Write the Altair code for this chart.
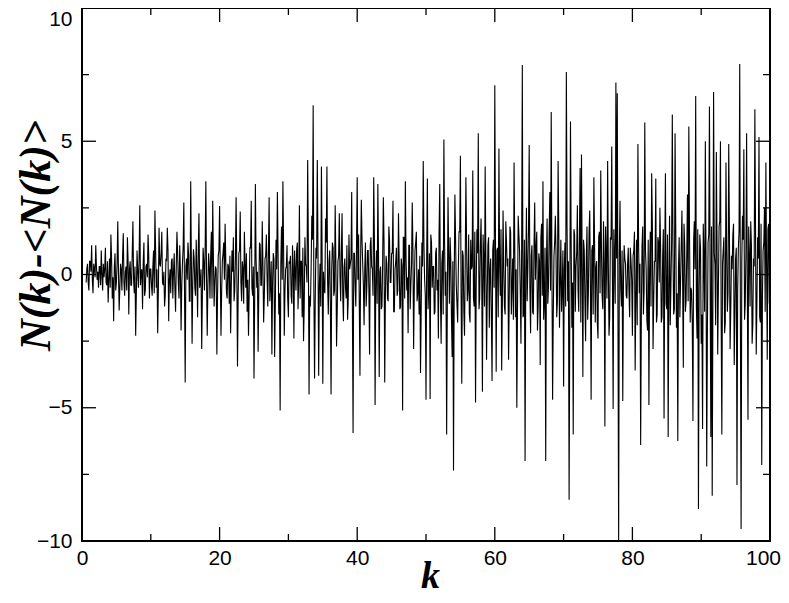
import altair as alt
import pandas as pd

# ---- data ----
# main samples: k = start + 0.2*i ; in-between samples: k = start + 0.1 + 0.2*i
K_STEP = 0.2
block_starts = [0.6, 10.2, 20.2, 30.2, 40.2, 50.2, 60.2, 70.2, 80.2, 90.2]

dev_00_10 = [-0.3, 0.4, -0.6, 0.5, 1.1, -0.7, 0.2, 1.1,
             -0.2, -0.5, 0.3, 0.9, -0.6, -0.1, 1.0, -0.4, -1.05, 0.6,
             1.5, -0.9, -1.75, 0.8, -0.3, 2.0, -1.35, 0.4, -0.6, 1.55,
             -0.8, 0.3, 1.4, -1.5, 0.5, -0.4, 2.0, -0.7, -2.3, 0.9,
             -0.5, 2.6, 0.1, -1.3, 1.2, -0.6, 0.4, 1.5, -0.9, 0.2]
dev_10_20 = [-0.8, 0.9, 2.4, -0.5, -2.2, 1.75, 0.3, 1.6, -0.4, -1.2,
             0.6, 1.75, -1.75, 0.2, 0.5, -0.9, 0.8, -1.4, 1.6, -0.3,
             1.1, -2.1, 0.4, 2.7, -4.05, 0.6, 1.2, -1.0, 3.5, -2.6,
             0.95, -0.5, 1.3, -1.6, 2.3, -0.3, -2.8, 1.0, -0.6, 3.5,
             -2.3, 0.8, -0.9, 1.6, 2.77, -1.2, 0.3, -3.0, 0.7, 2.57]
dev_20_30 = [-2.3, 0.5, 1.2, 1.9, -0.7, 0.4, -1.1, -2.2, 0.9, 1.4,
             -0.6, 2.9, -3.45, 0.8, 2.36, -1.0, 0.2, 1.6, -0.5, -1.4,
             -2.3, 1.0, 2.77, -0.8, -3.9, 3.4, -0.5, -2.9, 1.2, -0.4,
             2.0, -1.8, 0.6, 1.5, -1.2, 2.9, -0.4, -3.0, 0.8, -3.1,
             1.3, 3.1, -1.5, -5.1, 1.8, 3.5, -2.3, 0.2, 1.1, -1.6]
dev_30_40 = [0.4, -0.8, 1.1, -2.4, 0.2, 0.95, -1.3, 2.6, 0.5, -1.6,
             -2.5, 1.4, 0.3, 4.3, -4.5, -1.2, 2.2, 6.35, -3.9, 1.0,
             4.3, -3.8, 0.4, 4.05, -4.1, -0.6, 2.1, 4.05, -1.5, 0.9,
             -4.5, 1.2, -0.8, 2.6, -2.7, 0.5, 2.3, -1.0, 2.3, -1.75,
             0.6, -0.9, -1.7, 1.5, 0.4, 3.1, -5.95, 0.8, -1.2, 3.65]
dev_40_50 = [1.5, -3.8, 2.8, 0.4, -1.9, 1.2, -0.5, 0.9, -3.0, 1.4,
             0.2, 3.65, -4.9, 0.9, 3.4, -3.85, 0.3, -1.2, 2.9, -4.05,
             0.7, -0.9, 1.8, -0.3, 0.8, 2.77, -1.4, 0.5, -0.8, 2.3,
             -1.3, 0.6, -5.1, 1.4, 3.5, -0.6, -2.2, 1.1, -0.4, 2.7,
             -2.8, 0.9, 1.6, -0.7, -1.5, -3.7, 1.2, 4.26, -0.2, -4.7]
dev_50_60 = [3.6, -0.5, -4.67, 1.2, 0.3, -1.5, 0.8, -0.6, -2.4, 3.4,
             -2.6, 0.9, 5.07, -0.8, -6.0, 2.9, -1.1, 0.6, -3.1, -7.35,
             3.0, -0.4, -1.8, 1.6, 4.46, -4.1, 0.7, -2.3, 3.65, -1.0,
             1.5, -1.8, 0.2, 3.9, -1.2, -4.8, 1.7, 5.3, -0.9, 2.1,
             -4.4, 0.5, 4.05, -3.2, 1.1, -2.0, 0.6, -4.0, 1.3, 7.1]
dev_60_70 = [-3.65, 1.0, 4.73, -0.8, -3.6, 2.4, -1.2, 2.0, 0.3, -3.2,
             1.8, -1.5, 0.6, 4.2, -1.6, -5.0, 2.2, 0.9, -2.6, 7.86,
             -1.5, -7.0, 2.5, 0.2, 4.86, -2.2, 1.1, -1.5, 2.7, 1.0,
             -2.1, 0.8, -3.4, 1.9, 3.5, -1.0, -7.0, 2.1, -0.5, 3.1,
             6.1, -4.7, 0.7, 2.2, -1.6, 4.26, -2.0, 1.3, -0.6, -4.2]
dev_70_80 = [1.2, 7.6, -1.0, -8.45, 5.74, -2.0, -6.0, 1.5, 0.3, 2.6,
             -1.4, 4.0, 4.5, -3.85, 0.9, -2.5, 1.8, -0.7, 2.4, -4.7,
             1.1, 3.65, -1.8, 0.5, -2.4, 1.6, 3.9, -0.8, 2.0, -5.7,
             0.8, 4.26, -2.3, 1.4, 4.8, -5.05, 0.6, 7.2, 6.8, -10.0,
             2.77, -1.2, -4.75, 1.1, 0.4, -0.9, 1.0, -1.6, 0.5, -2.3]
dev_80_90 = [0.9, -3.6, 1.3, 4.9, -0.7, -6.4, 1.1, -1.5, 5.7, 0.2,
             -2.1, -4.9, 1.6, 3.8, -2.8, 0.5, 3.6, -1.5, 1.2, 2.5,
             -1.8, 0.7, -5.4, 3.8, -1.3, -6.1, 2.2, -0.4, 6.0, -1.5,
             5.3, -2.0, -6.25, 1.4, -0.3, 2.4, -3.5, 1.1, -1.0, 3.0,
             5.55, -1.8, -0.6, -5.5, 2.0, 6.7, -2.4, -8.8, 1.5, -2.6]
dev_90_100 = [-5.8, 0.6, 5.0, -7.2, 1.2, 6.3, -6.1, -8.3, 6.85, 0.4,
              4.6, -3.0, 1.8, 5.0, -6.0, 0.9, -2.2, 4.2, -1.4, 4.9,
              -2.8, 0.7, 1.5, -3.4, 0.6, -7.9, 1.0, 7.9, -9.55, 2.2,
              4.7, -1.1, 5.3, -5.45, 0.8, 2.0, -2.6, 0.6, 6.2, -3.0,
              1.4, 5.16, -1.8, -7.15, 0.9, 2.5, 4.2, -3.2, 1.9, 0.5]

mid_00_10 = [0.2, -0.3, 0.5, 0.1, -0.2, 0.4, -0.1, 0.3,
             0.1, 0.3, -0.4, 0.0, 0.4, 0.2, -0.3, 0.5, -0.2, -0.5,
             0.6, -0.1, 0.3, -0.6, 0.4, 0.1, -0.5, 0.2, 0.7, -0.3,
             0.1, -0.6, 0.5, 0.2, -0.4, 0.8, -0.2, 0.3, -0.7, 0.1,
             0.6, -0.4, 0.2, 0.5, -0.8, 0.3, -0.1, 0.7, 0.2, -0.4]
mid_10_20 = [0.3, -0.7, 0.9, 0.2, -0.6, 0.4, 0.8, -0.3, 0.1, -0.8,
             0.5, 0.9, -0.2, -0.7, 0.6, 0.1, -0.5, 0.3, 0.8, -0.9,
             0.2, -0.4, 1.0, -0.6, 0.3, -0.2, 0.7, -1.0, 0.4, -0.3,
             0.6, -0.8, 0.1, 0.9, -0.5, 0.2, -0.7, 0.5, 1.0, -0.1,
             -0.4, 0.3, 0.7, -0.9, 0.6, -0.3, 0.2, -0.8, 0.9, 0.1]
mid_20_30 = [-0.6, 0.8, -0.2, 0.5, -0.9, 0.3, 0.7, -0.4, 0.1, -1.0,
             0.6, 0.2, -0.8, 0.9, -0.3, 0.5, -1.1, 0.4, 0.8, -0.2,
             -0.7, 1.0, -0.5, 0.3, -0.9, 0.6, 0.1, -0.6, 1.1, -0.4,
             0.3, -0.8, 0.7, -0.1, 0.9, -1.0, 0.5, -0.3, 0.6, -1.1,
             0.2, 0.8, -0.7, 0.4, -0.2, 1.0, -0.6, 0.3, -0.9, 0.5]
mid_30_40 = [0.7, -1.1, 0.3, 0.9, -0.6, 1.2, -0.2, -0.9, 0.5, 1.0,
             -1.2, 0.4, -0.3, 1.1, -0.8, 0.2, 1.3, -0.5, -1.0, 0.6,
             0.9, -0.4, -1.2, 0.8, 0.1, -0.7, 1.2, -0.3, 0.5, -1.1,
             0.2, 1.0, -0.6, 0.4, -1.3, 0.7, -0.1, 0.9, -0.8, 0.3,
             -0.5, 1.1, -0.9, 0.2, 0.6, -1.2, 0.8, -0.4, 1.0, -0.2]
mid_40_50 = [-1.0, 0.6, 1.3, -0.4, 0.2, -1.2, 0.9, -0.6, 1.1, 0.3,
             -0.8, 1.4, -0.2, -1.1, 0.7, 0.1, -1.3, 0.5, 1.2, -0.7,
             0.4, -1.0, 1.3, -0.3, 0.8, -1.4, 0.2, 1.0, -0.6, 0.5,
             -1.2, 0.3, 1.4, -0.9, 0.6, -0.1, 1.1, -1.3, 0.4, 0.9,
             -0.5, 1.2, -1.0, 0.2, 0.7, -1.4, 0.3, 1.1, -0.8, 0.6]
mid_50_60 = [-1.3, 0.8, 1.5, -0.5, 0.3, -1.4, 1.0, -0.2, 1.6, -0.9,
             0.4, -1.5, 1.2, 0.1, -1.0, 0.7, 1.4, -1.6, 0.5, -0.3,
             1.3, -1.1, 0.2, 1.6, -0.7, 0.9, -1.4, 0.4, 1.1, -0.6,
             -1.5, 1.3, 0.3, -0.9, 1.6, -0.4, 0.8, -1.3, 1.0, -0.1,
             1.5, -1.2, 0.6, -0.8, 1.4, 0.2, -1.6, 0.9, -0.5, 1.2]
mid_60_70 = [0.9, -1.6, 0.4, 1.7, -1.1, 0.3, -1.5, 1.2, 0.6, -0.9,
             1.6, -0.4, -1.7, 1.0, 0.2, -1.3, 1.5, -0.6, 0.8, -1.6,
             1.3, 0.1, -1.0, 1.7, -0.5, 0.7, -1.4, 1.1, -0.2, 1.6,
             -1.2, 0.5, 1.4, -0.8, -1.7, 1.0, 0.3, -1.1, 1.6, -0.6,
             0.4, -1.5, 1.2, 0.7, -1.0, 1.7, -0.3, -1.4, 0.9, 0.2]
mid_70_80 = [-1.2, 1.8, 0.5, -1.6, 1.1, -0.3, 1.7, -1.4, 0.8, -0.6,
             1.5, -1.8, 0.2, 1.3, -1.0, 0.6, -1.7, 1.6, -0.4, 0.9,
             -1.5, 1.2, 0.3, -1.8, 1.4, -0.7, 1.0, -1.3, 0.5, 1.8,
             -0.9, 0.4, -1.6, 1.3, -0.2, 1.7, -1.1, 0.6, -1.4, 0.8,
             -0.5, 0.9, -0.3, 0.6, -0.8, 0.4, -0.6, 1.0, -0.2, 0.7]
mid_80_90 = [1.6, -0.8, -1.9, 1.2, 0.4, -1.5, 1.8, -0.6, 0.9, -1.7,
             1.3, 0.2, -1.2, 1.9, -0.9, 0.5, -1.8, 1.4, -0.3, 1.0,
             -1.6, 1.7, 0.6, -1.1, 1.5, -0.4, -1.9, 1.2, 0.8, -1.3,
             1.8, -0.7, 0.3, -1.6, 1.1, -0.2, 1.9, -1.4, 0.7, -1.0,
             1.6, -0.5, -1.8, 1.3, 0.2, -1.2, 1.7, -0.6, 1.0, -1.5]
mid_90_100 = [1.9, -1.4, 0.6, -2.0, 1.5, -0.3, 1.8, -1.1, 0.8, -1.9,
              1.2, -0.5, 2.0, -1.6, 0.4, 1.4, -1.8, 0.9, -0.7, 1.7,
              -1.3, 0.2, 1.9, -1.5, 1.0, -0.6, 1.6, -2.0, 0.5, 1.3,
              -1.7, 0.7, -0.2, 1.8, -1.2, 1.1, -1.9, 0.3, 1.5, -1.0,
              0.6, -1.6, 1.9, -0.8, 1.2, -1.4, 0.4, 1.7, -1.1]

blocks = [dev_00_10, dev_10_20, dev_20_30, dev_30_40, dev_40_50,
          dev_50_60, dev_60_70, dev_70_80, dev_80_90, dev_90_100]
mids = [mid_00_10, mid_10_20, mid_20_30, mid_30_40, mid_40_50,
        mid_50_60, mid_60_70, mid_70_80, mid_80_90, mid_90_100]

x_major = [0, 20, 40, 60, 80, 100]
x_minor = [10, 30, 50, 70, 90]
y_major = [-10, -5, 0, 5, 10]
y_minor = [-7.5, -2.5, 2.5, 7.5]

rows = []
for start, vals, mvals in zip(block_starts, blocks, mids):
    for i, v in enumerate(vals):
        rows.append({"k": round(start + K_STEP * i, 2), "dev": v})
    for i, v in enumerate(mvals):
        rows.append({"k": round(start + 0.1 + K_STEP * i, 2), "dev": v})
df = pd.DataFrame(rows).sort_values("k").reset_index(drop=True)

W, H = 688, 533
MAJ, MIN = 14, 7

xs = alt.Scale(domain=[0, 100], nice=False, zero=False)
ys = alt.Scale(domain=[-10, 10], nice=False, zero=False)

ax_x = alt.Axis(
    values=x_major, ticks=False, domain=False, grid=False,
    labelFont="Liberation Sans", labelFontSize=21, labelColor="black",
    labelPadding=6, labelFlush=False,
    labelOffset=alt.ExprRef("datum.value == 100 ? -7 : 0"),
    title="k", titleFont="Liberation Serif", titleFontStyle="italic",
    titleFontWeight="bold", titleFontSize=38, titleColor="black",
    titleX=348, titleY=46, titleBaseline="alphabetic")
ax_y = alt.Axis(
    values=y_major, ticks=False, domain=False, grid=False,
    labelFont="Liberation Sans", labelFontSize=21, labelColor="black",
    labelPadding=10, labelFlush=False,
    labelOffset=alt.ExprRef("datum.value == 10 ? 11 : 0"),
    title="N(k)-<N(k)>", titleFont="Liberation Serif", titleFontStyle="italic",
    titleFontWeight="bold", titleFontSize=44, titleColor="black",
    titleX=-46, titleY=227, titleAngle=270, titleAlign="center",
    titleBaseline="middle")

line = alt.Chart(df).mark_line(color="black", strokeWidth=1.1, clip=True).encode(
    x=alt.X("k:Q", scale=xs, axis=ax_x),
    y=alt.Y("dev:Q", scale=ys, axis=ax_y),
    order="k:Q",
)

def xticks(vals, length):
    d = pd.DataFrame({"k": vals})
    bot = alt.Chart(d).mark_rule(color="black", strokeWidth=1.3).encode(
        x=alt.X("k:Q", scale=xs, axis=ax_x), y=alt.value(H), y2=alt.value(H - length))
    top = alt.Chart(d).mark_rule(color="black", strokeWidth=1.3).encode(
        x=alt.X("k:Q", scale=xs, axis=ax_x), y=alt.value(0), y2=alt.value(length))
    return [bot, top]

def yticks(vals, length):
    d = pd.DataFrame({"dev": vals})
    left = alt.Chart(d).mark_rule(color="black", strokeWidth=1.3).encode(
        y=alt.Y("dev:Q", scale=ys, axis=ax_y), x=alt.value(0), x2=alt.value(length))
    right = alt.Chart(d).mark_rule(color="black", strokeWidth=1.3).encode(
        y=alt.Y("dev:Q", scale=ys, axis=ax_y), x=alt.value(W), x2=alt.value(W - length))
    return [left, right]

layers = [line] + xticks(x_major, MAJ) + xticks(x_minor, MIN) + yticks(y_major, MAJ) + yticks(y_minor, MIN)

chart = alt.layer(*layers).properties(
    width=W, height=H,
    autosize=alt.AutoSizeParams(type="none"),
    padding={"left": 74, "top": 0, "right": 11, "bottom": 54},
    background="white",
).configure_view(stroke="black", strokeWidth=2)

chart.save("out.html", embed_options={"renderer": "svg", "actions": False})
